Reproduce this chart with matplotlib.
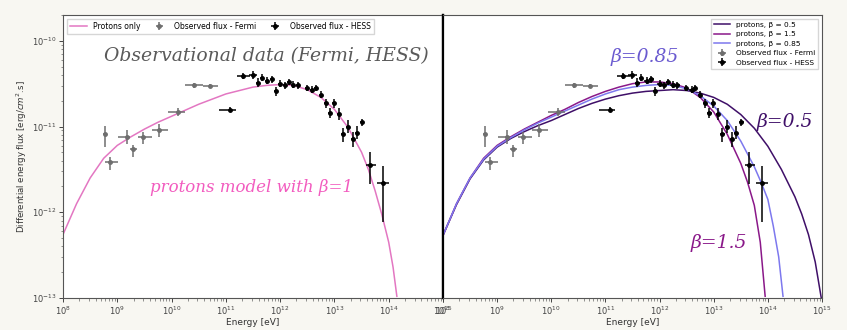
import numpy as np
import matplotlib
matplotlib.use("Agg")
import matplotlib.pyplot as plt
from matplotlib.ticker import LogLocator, NullFormatter

# Fermi points (energy in eV, flux in erg/cm2/s); error bars in decades
E_fermi = [5.9e8, 7.3e8, 1.51e9, 1.95e9, 2.97e9, 5.86e9, 1.31e10, 2.59e10, 5.1e10]
F_fermi = [8.1e-12, 3.9e-12, 7.65e-12, 5.4e-12, 7.65e-12, 9.0e-12, 1.46e-11, 3.08e-11, 3.0e-11]
dE_lo_fermi = [0.036, 0.093, 0.166, 0.055, 0.092, 0.129, 0.184, 0.166, 0.129]
dE_hi_fermi = [0.036, 0.147, 0.055, 0.074, 0.166, 0.166, 0.129, 0.165, 0.147]
dF_lo_fermi = [0.151, 0.093, 0.093, 0.093, 0.093, 0.081, 0.047, 0.035, 0.024]
dF_hi_fermi = [0.093, 0.058, 0.081, 0.058, 0.058, 0.070, 0.047, 0.024, 0.024]

# HESS points
E_hess = [1.19e11, 2.07e11, 3.16e11, 3.89e11, 4.57e11, 5.75e11, 7.08e11, 8.32e11, 1.0e12,
          1.23e12, 1.45e12, 1.74e12, 2.14e12, 3.09e12, 3.89e12, 4.57e12, 5.62e12, 6.92e12,
          8.32e12, 9.77e12, 1.2e13, 1.45e13, 1.78e13, 2.19e13, 2.57e13, 3.24e13, 4.47e13, 7.76e13]
F_hess = [1.58e-11, 3.89e-11, 3.98e-11, 3.24e-11, 3.72e-11, 3.43e-11, 3.55e-11, 2.57e-11, 3.16e-11,
          3.02e-11, 3.31e-11, 3.09e-11, 3.02e-11, 2.82e-11, 2.69e-11, 2.82e-11, 2.34e-11, 1.86e-11,
          1.45e-11, 1.86e-11, 1.41e-11, 8.1e-12, 1.0e-11, 7.2e-12, 8.5e-12, 1.12e-11, 3.55e-12, 2.19e-12]
dE_lo_hess = [0.20, 0.11, 0.075] + [0.04] * 23 + [0.07, 0.11]
dE_hi_hess = [0.11, 0.13, 0.075] + [0.04] * 23 + [0.11, 0.11]
dF_lo_hess = [0.03, 0.04, 0.05, 0.05, 0.04, 0.04, 0.04, 0.05, 0.04, 0.04, 0.04, 0.04, 0.04, 0.04,
              0.04, 0.04, 0.04, 0.05, 0.058, 0.05, 0.07, 0.093, 0.075, 0.093, 0.075, 0.04, 0.22, 0.45]
dF_hi_hess = [0.03, 0.04, 0.05, 0.05, 0.04, 0.04, 0.04, 0.05, 0.04, 0.04, 0.04, 0.04, 0.04, 0.04,
              0.04, 0.04, 0.04, 0.05, 0.058, 0.05, 0.07, 0.080, 0.075, 0.080, 0.075, 0.04, 0.15, 0.20]

# model curves (log10 E, log10 F)
logE_b1 = [8.0, 8.25, 8.5, 8.75, 9.0, 9.25, 9.5, 9.75, 10.0, 10.25, 10.5, 10.75, 11.0, 11.25,
           11.5, 11.75, 12.0, 12.25, 12.5, 12.75, 13.0, 13.25, 13.5, 13.625, 13.75, 13.875,
           14.0, 14.08, 14.15]
logF_b1 = [-12.26, -11.90, -11.60, -11.37, -11.22, -11.12, -11.03, -10.95, -10.88, -10.81, -10.74,
           -10.68, -10.62, -10.58, -10.54, -10.52, -10.51, -10.52, -10.57, -10.66, -10.80, -11.01,
           -11.30, -11.50, -11.75, -12.03, -12.35, -12.64, -12.98]

logE_b05 = [8.0, 8.25, 8.5, 8.75, 9.0, 9.25, 9.5, 9.75, 10.0, 10.25, 10.5, 10.75, 11.0, 11.25, 11.5,
            11.75, 12.0, 12.25, 12.5, 12.75, 13.0, 13.25, 13.5, 13.75, 14.0, 14.25, 14.5, 14.625,
            14.75, 14.875, 15.0]
logF_b05 = [-12.27, -11.91, -11.61, -11.39, -11.24, -11.14, -11.06, -10.99, -10.93, -10.86, -10.79,
            -10.73, -10.68, -10.64, -10.61, -10.59, -10.58, -10.57, -10.58, -10.61, -10.66, -10.74,
            -10.86, -11.02, -11.23, -11.50, -11.82, -12.02, -12.26, -12.58, -13.05]

logE_b15 = [8.0, 8.25, 8.5, 8.75, 9.0, 9.25, 9.5, 9.75, 10.0, 10.25, 10.5, 10.75, 11.0, 11.25, 11.5,
            11.75, 12.0, 12.25, 12.5, 12.75, 13.0, 13.25, 13.5, 13.625, 13.75, 13.86, 13.95]
logF_b15 = [-12.27, -11.90, -11.60, -11.37, -11.22, -11.12, -11.03, -10.95, -10.87, -10.80, -10.72,
            -10.65, -10.59, -10.54, -10.50, -10.48, -10.48, -10.50, -10.55, -10.66, -10.83, -11.09,
            -11.43, -11.65, -11.92, -12.35, -12.98]

logE_b085 = [8.0, 8.25, 8.5, 8.75, 9.0, 9.25, 9.5, 9.75, 10.0, 10.25, 10.5, 10.75, 11.0, 11.25, 11.5,
             11.75, 12.0, 12.25, 12.5, 12.75, 13.0, 13.25, 13.5, 13.75, 13.875, 14.0, 14.1, 14.2, 14.28]
logF_b085 = [-12.27, -11.90, -11.60, -11.38, -11.23, -11.13, -11.04, -10.96, -10.89, -10.82, -10.75,
             -10.68, -10.62, -10.57, -10.54, -10.52, -10.51, -10.52, -10.56, -10.64, -10.76, -10.93,
             -11.17, -11.47, -11.65, -11.85, -12.16, -12.52, -12.98]

y_ticks = [1e-13, 1e-12, 1e-11, 1e-10]
x_ticks = [1e8, 1e9, 1e10, 1e11, 1e12, 1e13, 1e14, 1e15]

PINK = "#e377c2"
C05 = "#3f0f68"
C15 = "#8a1889"
C085 = "#7d78ee"


def bars(E, F, dEl, dEh, dFl, dFh):
    E = np.array(E); F = np.array(F)
    xerr = [E - E / 10 ** np.array(dEl), E * 10 ** np.array(dEh) - E]
    yerr = [F - F / 10 ** np.array(dFl), F * 10 ** np.array(dFh) - F]
    return E, F, xerr, yerr


fermi = bars(E_fermi, F_fermi, dE_lo_fermi, dE_hi_fermi, dF_lo_fermi, dF_hi_fermi)
hess = bars(E_hess, F_hess, dE_lo_hess, dE_hi_hess, dF_lo_hess, dF_hi_hess)


def draw_data(ax):
    E, F, xe, ye = fermi
    ax.errorbar(E, F, xerr=xe, yerr=ye, fmt="o", color="#6e6e6e", ms=2.5, lw=1.1,
                label="Observed flux - Fermi")
    E, F, xe, ye = hess
    ax.errorbar(E, F, xerr=xe, yerr=ye, fmt="o", color="black", ms=2.5, lw=1.1,
                label="Observed flux - HESS")


def style(ax):
    ax.set_xscale("log")
    ax.set_yscale("log")
    ax.set_xlim(1e8, 1e15)
    ax.set_ylim(1e-13, 2e-10)
    ax.set_xticks(x_ticks)
    ax.set_yticks(y_ticks)
    ax.yaxis.set_minor_locator(LogLocator(base=10, subs=np.arange(2, 10)))
    ax.yaxis.set_minor_formatter(NullFormatter())
    ax.xaxis.set_minor_formatter(NullFormatter())
    ax.tick_params(labelsize=6, colors="#444444", length=3, width=0.7, pad=1.5)
    ax.tick_params(which="minor", length=1.8, width=0.5, colors="#666666")
    for s in ax.spines.values():
        s.set_color("#555555")
        s.set_linewidth(0.8)
    ax.set_xlabel("Energy [eV]", fontsize=6.5, color="#333333", labelpad=1)


fig = plt.figure(figsize=(8.47, 3.30), dpi=100, facecolor="#f8f7f2")
ax1 = fig.add_axes([63 / 847, 32 / 330, 380 / 847, 283 / 330])
ax2 = fig.add_axes([443 / 847, 32 / 330, 379 / 847, 283 / 330])

# left panel
ax1.plot(10 ** np.array(logE_b1), 10 ** np.array(logF_b1), color=PINK, lw=1.1, label="Protons only")
draw_data(ax1)
style(ax1)
ax1.set_ylabel("Differential energy flux [erg/$cm^2$.s]", fontsize=6.2, color="#333333", labelpad=2)
ax1.legend(loc="upper left", ncol=3, fontsize=5.5, frameon=True, borderpad=0.4,
           handlelength=2.2, columnspacing=1.4, bbox_to_anchor=(0.0, 1.0), fancybox=False,
           edgecolor="#cccccc")
ax1.spines["right"].set_color("black")
ax1.spines["right"].set_linewidth(1.6)
ax1.text(0.535, 0.855, "Observational data (Fermi, HESS)", transform=ax1.transAxes,
         fontsize=13.5, style="italic", color="#5a5a5a", ha="center", va="center",
         family="DejaVu Serif")
ax1.text(0.497, 0.39, "protons model with β=1", transform=ax1.transAxes,
         fontsize=12, style="italic", color="#f25bbf", ha="center", va="center",
         family="DejaVu Serif")

# right panel
ax2.plot(10 ** np.array(logE_b05), 10 ** np.array(logF_b05), color=C05, lw=1.1, label="protons, β = 0.5")
ax2.plot(10 ** np.array(logE_b15), 10 ** np.array(logF_b15), color=C15, lw=1.1, label="protons, β = 1.5")
ax2.plot(10 ** np.array(logE_b085), 10 ** np.array(logF_b085), color=C085, lw=1.1, label="protons, β = 0.85")
draw_data(ax2)
style(ax2)
ax2.tick_params(axis="y", which="both", left=False, labelleft=False)
ax2.spines["left"].set_color("black")
ax2.spines["left"].set_linewidth(1.6)
ax2.legend(loc="upper right", fontsize=5.3, frameon=True, borderpad=0.4, handlelength=2.2,
           labelspacing=0.45, fancybox=False, edgecolor="#cccccc")
ax2.text(0.533, 0.852, "β=0.85", transform=ax2.transAxes, fontsize=13.5, style="italic",
         color="#6a5ad0", ha="center", va="center", family="DejaVu Serif")
ax2.text(0.902, 0.622, "β=0.5", transform=ax2.transAxes, fontsize=13.5, style="italic",
         color=C05, ha="center", va="center", family="DejaVu Serif")
ax2.text(0.728, 0.194, "β=1.5", transform=ax2.transAxes, fontsize=13.5, style="italic",
         color=C15, ha="center", va="center", family="DejaVu Serif")

fig.savefig("out.png", dpi=100, facecolor=fig.get_facecolor())
